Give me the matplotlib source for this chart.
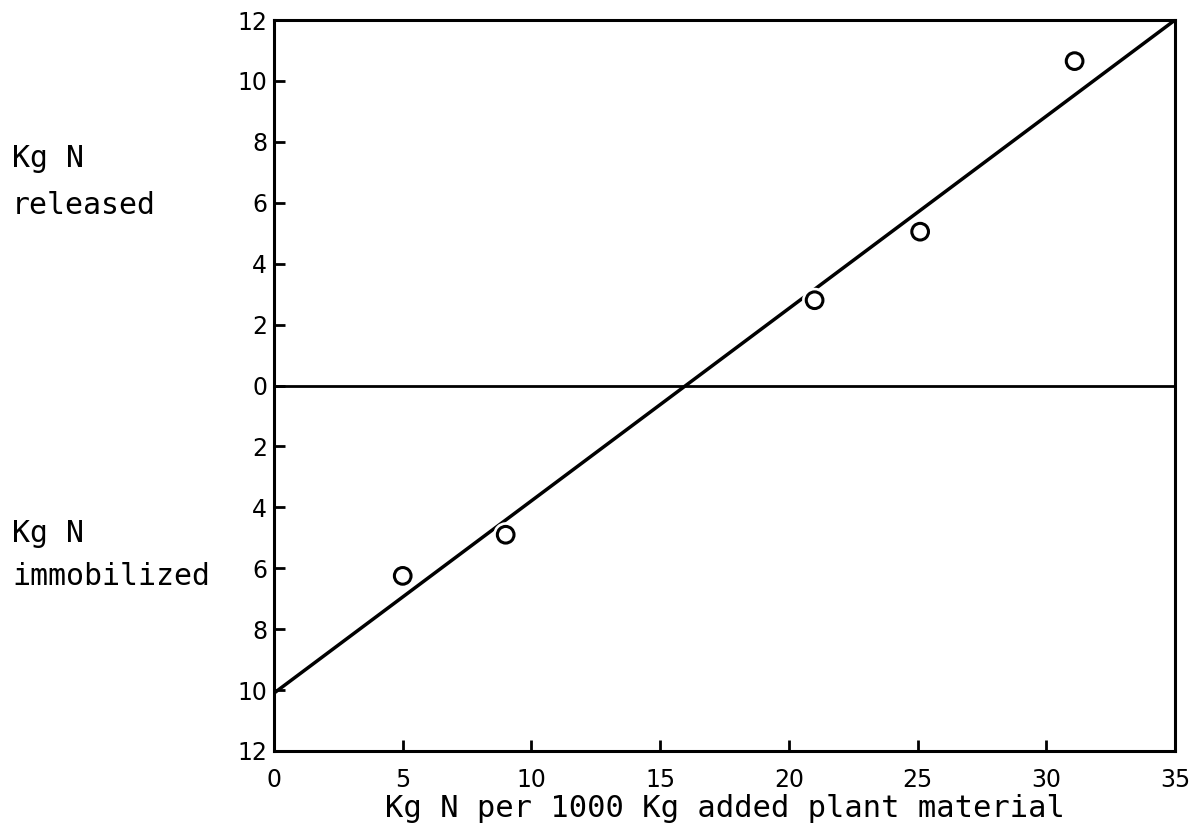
import matplotlib
matplotlib.use("Agg")
import matplotlib.pyplot as plt
import matplotlib.patheffects as pe
from matplotlib.ticker import FuncFormatter
import numpy as np

# Data
n_added = [5.0, 9.0, 21.0, 25.1, 31.1]          # Kg N per 1000 Kg added plant material
n_released = [-6.25, -4.9, 2.8, 5.05, 10.65]     # + released / - immobilized
fit_intercept = -10.1
fit_slope = 0.6314
x_ticks = [0, 5, 10, 15, 20, 25, 30, 35]
y_ticks = [-12, -10, -8, -6, -4, -2, 0, 2, 4, 6, 8, 10, 12]
x_label = "Kg N per 1000 Kg added plant material"
upper_label = "Kg N\nreleased"
lower_label = "Kg N\nimmobilized"

fig = plt.figure(figsize=(11.97, 8.36), dpi=100)
ax = fig.add_axes([274/1197, 1-751/836, 901/1197, 731/836])

xs = np.array([0.0, 35.0])
ax.plot(xs, fit_intercept + fit_slope*xs, color="black", lw=2.5, zorder=2,
        solid_capstyle="butt")
ax.axhline(0, color="black", lw=2.0, zorder=1)
ax.plot(n_added, n_released, linestyle="none", marker="o", markersize=12,
        markerfacecolor="none", markeredgecolor="black", markeredgewidth=2.2,
        zorder=3,
        path_effects=[pe.Stroke(linewidth=6, foreground="white"), pe.Normal()])

ax.set_xlim(0, 35)
ax.set_ylim(-12, 12)
ax.set_xticks(x_ticks)
ax.set_yticks(y_ticks)
ax.yaxis.set_major_formatter(FuncFormatter(lambda v, p: f"{abs(int(round(v)))}"))
ax.tick_params(direction="in", length=8, width=2, labelsize=17,
               top=False, right=False)
ax.tick_params(axis="x", pad=12)
ax.tick_params(axis="y", pad=5)
for s in ax.spines.values():
    s.set_linewidth(2.2)

mono = "DejaVu Sans Mono"
ax.set_xlabel(x_label, fontsize=22, family=mono, labelpad=2)
fig.text(12/1197, 1-182/836, upper_label, fontsize=21.5, family=mono,
         va="center", ha="left", linespacing=1.75)
fig.text(12/1197, 1-555/836, lower_label, fontsize=21.5, family=mono,
         va="center", ha="left", linespacing=1.6)

fig.savefig("out.png", dpi=100)
